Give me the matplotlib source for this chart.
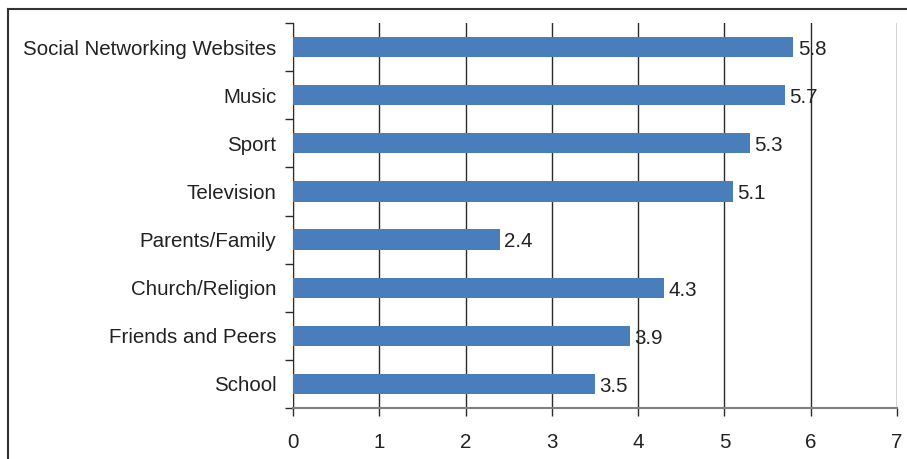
import numpy as np
import matplotlib.pyplot as plt
from matplotlib.lines import Line2D

plt.rcParams['font.family'] = ['Liberation Sans', 'DejaVu Sans']

# Categories listed bottom to top
categories = ['School', 'Friends and Peers', 'Church/Religion', 'Parents/Family',
              'Television', 'Sport', 'Music', 'Social Networking Websites']
values = [3.5, 3.9, 4.3, 2.4, 5.1, 5.3, 5.7, 5.8]
x_ticks = [0, 1, 2, 3, 4, 5, 6, 7]

bar_color = '#4a7ebb'
line_color = '#2b2b2b'
text_color = '#222222'
fs = 14.8

fig = plt.figure(figsize=(9.07, 4.59), dpi=100)
ax = fig.add_axes([0.323, 0.111, 0.666, 0.839])

y = np.arange(len(categories))
ax.barh(y, values, height=0.42, color=bar_color, zorder=3)

for yi, v in zip(y, values):
    ax.text(v + 0.05, yi - 0.05, f'{v}', va='center', ha='left', fontsize=fs,
            color=text_color, zorder=4)

ax.set_xlim(0, 7)
ax.set_ylim(-0.5, len(categories) - 0.5)
ax.set_xticks(x_ticks)
ax.set_xticklabels([str(t) for t in x_ticks], fontsize=fs, color=text_color)
ax.tick_params(axis='x', direction='out', length=6, width=1, color=line_color, pad=12)

# category boundaries get ticks, labels sit at the centres
ax.set_yticks(np.arange(len(categories) + 1) - 0.5)
ax.set_yticklabels([])
ax.tick_params(axis='y', which='major', direction='out', length=6, width=1, color=line_color)
ax.set_yticks(y, minor=True)
ax.set_yticklabels(categories, minor=True, fontsize=fs, color=text_color)
ax.tick_params(axis='y', which='minor', length=0, pad=12)

ax.grid(axis='x', color=line_color, linewidth=1, zorder=0)
ax.set_axisbelow(True)
for side in ['top', 'right']:
    ax.spines[side].set_visible(False)
ax.spines['left'].set_color(line_color)
ax.spines['bottom'].set_color('#808080')
ax.spines['bottom'].set_linewidth(1.5)

# outer frame (top and left edges)
fig.add_artist(Line2D([8 / 907, 1], [1 - 9 / 459, 1 - 9 / 459], color='#333333', linewidth=1.5))
fig.add_artist(Line2D([8 / 907, 8 / 907], [0, 1 - 9 / 459], color='#333333', linewidth=1.5))

fig.savefig('out.png', dpi=100)
